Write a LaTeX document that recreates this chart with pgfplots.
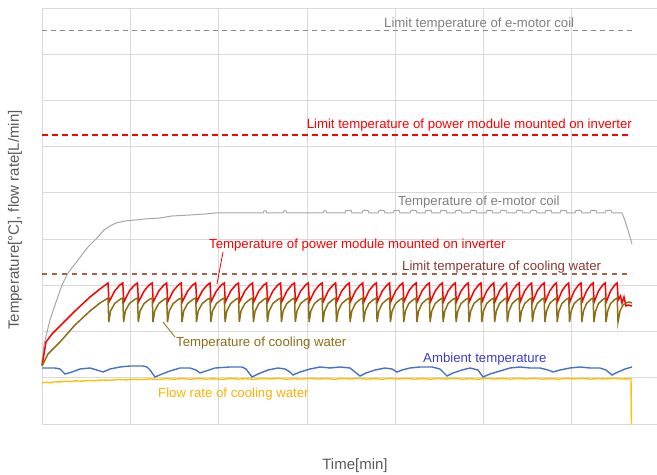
\documentclass[border=0pt]{standalone}
\usepackage{pgfplots}
\pgfplotsset{compat=1.18}
\usepackage{fontspec}
\setmainfont{Liberation Sans}
\definecolor{gridc}{HTML}{D9D9D9}
\definecolor{coilc}{HTML}{A6A6A6}
\definecolor{limgray}{HTML}{8C8C8C}
\definecolor{txtgray}{HTML}{808080}
\definecolor{redc}{HTML}{FF0000}
\definecolor{limbrown}{RGB}{165,100,70}
\definecolor{limbrowntxt}{RGB}{140,55,50}
\definecolor{waterc}{RGB}{140,110,20}
\definecolor{ambc}{HTML}{4472C4}
\definecolor{ambtxt}{RGB}{60,60,205}
\definecolor{flowc}{HTML}{FFC000}
\definecolor{flowtxt}{RGB}{255,176,0}
\definecolor{labc}{HTML}{5A5A5A}
\newcommand{\annfont}{\fontsize{13.2bp}{15bp}\selectfont}
\newcommand{\labfont}{\fontsize{15bp}{17bp}\selectfont}
\begin{document}
\begin{tikzpicture}
\begin{axis}[
  scale only axis, width=618bp, height=416bp,
  xmin=42, xmax=660, ymin=0, ymax=416,
  axis line style={draw=gridc, line width=0.8pt},
  xtick={130.3,218.6,306.9,395.2,483.5,571.8},
  ytick={46.2,92.4,138.7,184.9,231.1,277.3,323.6,369.8},
  xticklabel=\empty, yticklabel=\empty,
  major tick length=0pt,
  grid=major, grid style={draw=gridc, line width=0.8pt},
  clip=false,
]
% limit lines
\addplot[limgray, line width=1pt, dash pattern=on 5bp off 4bp] coordinates {(42,393) (632,393)};
\addplot[redc, line width=1.6pt, dash pattern=on 6bp off 4bp] coordinates {(42,289) (632,289)};
\addplot[limbrown, line width=1.3pt, dash pattern=on 5bp off 5bp] coordinates {(42,150) (632,150)};
% e-motor coil temperature
\addplot[coilc, line width=1pt] coordinates {
(42,62) (44,79) (47,92) (50,104) (56,122) (62,139) (68,151) (78,164) (88,177) (97,186)
(104,194) (110,198) (116,201) (125,203) (145,205) (160,206) (172,208) (190,209) (205,210) (215,211)
(263,211) (264,213) (266,213) (267,211) (283,211) (284,213) (286,213) (287,211) (323,211) (324,213) (326,213) (327,211)
(345,211) (346,213.5) (351,213.5) (352,211)
(362,211) (363,213.5) (368,213.5) (369,211)
(378,211) (379,213.5) (384,213.5) (385,211)
(393,211) (394,213.5) (399,213.5) (400,211)
(410,211) (411,213.5) (416,213.5) (417,211)
(425,211) (426,213.5) (431,213.5) (432,211)
(440,211) (441,213.5) (446,213.5) (447,211)
(455,211) (456,213.5) (461,213.5) (462,211)
(470,211) (471,213.5) (476,213.5) (477,211)
(486,211) (487,213.5) (492,213.5) (493,211)
(500,211) (501,213.5) (506,213.5) (507,211)
(516,211) (517,213.5) (522,213.5) (523,211)
(530,211) (531,213.5) (536,213.5) (537,211)
(545,211) (546,213.5) (551,213.5) (552,211)
(560,211) (561,213.5) (566,213.5) (567,211)
(575,211) (576,213.5) (581,213.5) (582,211)
(590,211) (591,213.5) (596,213.5) (597,211)
(605,211) (606,213.5) (611,213.5) (612,211)
(622,211) (624,206) (628,194) (632,180)};
% power module temperature
\addplot[redc, line width=1.5pt] coordinates {
(42,59) (43,64) (46,82) (52,90) (60,98) (75,113) (90,127) (100,135)
(108,141) (109,122) (114.7,133) (119.8,139)
(122.8,141) (123.8,122) (129.4,133) (134.6,139)
(137.5,141) (138.5,122) (144.1,133) (149.2,139)
(152.2,141) (153.2,122) (158.8,133) (163.9,139)
(166.7,141) (167.7,122) (173.2,133) (178.3,139)
(181.2,141) (182.2,122) (187.7,133) (192.7,139)
(195.7,141) (196.7,122) (202.2,133) (207.2,139)
(210.0,141) (211.0,122) (216.4,133) (221.4,139)
(224.3,141) (225.3,122) (230.7,133) (235.7,139)
(238.5,141) (239.5,122) (244.9,133) (249.8,139)
(252.6,141) (253.6,122) (258.9,133) (263.8,139)
(266.6,141) (267.6,122) (272.9,133) (277.8,139)
(280.6,141) (281.6,122) (286.9,133) (291.7,139)
(294.5,141) (295.5,122) (300.7,133) (305.6,139)
(308.3,141) (309.3,122) (314.5,133) (319.3,139)
(322.1,141) (323.1,122) (328.2,133) (333.0,139)
(335.7,141) (336.7,122) (341.8,133) (346.6,139)
(349.3,141) (350.3,122) (355.4,133) (360.1,139)
(362.8,141) (363.8,122) (368.9,133) (373.6,139)
(376.3,141) (377.3,122) (382.3,133) (387.0,139)
(389.6,141) (390.6,122) (395.6,133) (400.2,139)
(402.9,141) (403.9,122) (408.8,133) (413.5,139)
(416.1,141) (417.1,122) (422.0,133) (426.6,139)
(429.3,141) (430.3,122) (435.2,133) (439.8,139)
(442.3,141) (443.3,122) (448.1,133) (452.7,139)
(455.3,141) (456.3,122) (461.1,133) (465.6,139)
(468.2,141) (469.2,122) (474.0,133) (478.5,139)
(481.0,141) (482.0,122) (486.7,133) (491.2,139)
(493.8,141) (494.8,122) (499.5,133) (503.9,139)
(506.5,141) (507.5,122) (512.2,133) (516.6,139)
(519.1,141) (520.1,122) (524.7,133) (529.1,139)
(531.6,141) (532.6,122) (537.2,133) (541.6,139)
(544.1,141) (545.1,122) (549.7,133) (554.0,139)
(556.4,141) (557.4,122) (561.9,133) (566.2,139)
(568.7,141) (569.7,122) (574.2,133) (578.5,139)
(581.0,141) (582.0,122) (586.5,133) (590.7,139)
(593.1,141) (594.1,122) (598.5,133) (602.8,139)
(605.2,141) (606.2,122) (610.6,133) (614.8,139)
(617.2,141) (618.2,124) (620.5,128) (622,121) (624,127) (626,118) (628,119) (632,118)};
% cooling water temperature
\addplot[waterc, line width=1.5pt] coordinates {
(42,58) (48,70) (60,82) (75,99) (90,113) (100,121)
(108,126) (108.8,102) (110.5,113) (114.7,120.5) (119.8,124.5)
(122.8,126) (123.6,102) (125.3,113) (129.4,120.5) (134.6,124.5)
(137.5,126) (138.3,102) (140.0,113) (144.1,120.5) (149.2,124.5)
(152.2,126) (153.0,102) (154.7,113) (158.8,120.5) (163.9,124.5)
(166.7,126) (167.5,102) (169.2,113) (173.2,120.5) (178.3,124.5)
(181.2,126) (182.0,102) (183.7,113) (187.7,120.5) (192.7,124.5)
(195.7,126) (196.5,102) (198.2,113) (202.2,120.5) (207.2,124.5)
(210.0,126) (210.8,102) (212.5,113) (216.4,120.5) (221.4,124.5)
(224.3,126) (225.1,102) (226.8,113) (230.7,120.5) (235.7,124.5)
(238.5,126) (239.3,102) (241.0,113) (244.9,120.5) (249.8,124.5)
(252.6,126) (253.4,102) (255.1,113) (258.9,120.5) (263.8,124.5)
(266.6,126) (267.4,102) (269.1,113) (272.9,120.5) (277.8,124.5)
(280.6,126) (281.4,102) (283.1,113) (286.9,120.5) (291.7,124.5)
(294.5,126) (295.3,102) (297.0,113) (300.7,120.5) (305.6,124.5)
(308.3,126) (309.1,102) (310.8,113) (314.5,120.5) (319.3,124.5)
(322.1,126) (322.9,102) (324.6,113) (328.2,120.5) (333.0,124.5)
(335.7,126) (336.5,102) (338.2,113) (341.8,120.5) (346.6,124.5)
(349.3,126) (350.1,102) (351.8,113) (355.4,120.5) (360.1,124.5)
(362.8,126) (363.6,102) (365.3,113) (368.9,120.5) (373.6,124.5)
(376.3,126) (377.1,102) (378.8,113) (382.3,120.5) (387.0,124.5)
(389.6,126) (390.4,102) (392.1,113) (395.6,120.5) (400.2,124.5)
(402.9,126) (403.7,102) (405.4,113) (408.8,120.5) (413.5,124.5)
(416.1,126) (416.9,102) (418.6,113) (422.0,120.5) (426.6,124.5)
(429.3,126) (430.1,102) (431.8,113) (435.2,120.5) (439.8,124.5)
(442.3,126) (443.1,102) (444.8,113) (448.1,120.5) (452.7,124.5)
(455.3,126) (456.1,102) (457.8,113) (461.1,120.5) (465.6,124.5)
(468.2,126) (469.0,102) (470.7,113) (474.0,120.5) (478.5,124.5)
(481.0,126) (481.8,102) (483.5,113) (486.7,120.5) (491.2,124.5)
(493.8,126) (494.6,102) (496.3,113) (499.5,120.5) (503.9,124.5)
(506.5,126) (507.3,102) (509.0,113) (512.2,120.5) (516.6,124.5)
(519.1,126) (519.9,102) (521.6,113) (524.7,120.5) (529.1,124.5)
(531.6,126) (532.4,102) (534.1,113) (537.2,120.5) (541.6,124.5)
(544.1,126) (544.9,102) (546.6,113) (549.7,120.5) (554.0,124.5)
(556.4,126) (557.2,102) (558.9,113) (561.9,120.5) (566.2,124.5)
(568.7,126) (569.5,102) (571.2,113) (574.2,120.5) (578.5,124.5)
(581.0,126) (581.8,102) (583.5,113) (586.5,120.5) (590.7,124.5)
(593.1,126) (593.9,102) (595.6,113) (598.5,120.5) (602.8,124.5)
(605.2,126) (606.0,102) (607.7,113) (610.6,120.5) (614.8,124.5)
(617.2,126) (618,102) (620,113) (623,119) (626,121) (629,122) (632,121)};
% ambient temperature
\addplot[ambc, line width=1.4pt] coordinates {
(42,56) (55,56) (60,55) (65,50) (72,52) (80,55) (90,56) (97,54) (103,52) (110,55)
(120,57) (130,58) (143,58) (147,57) (150,54) (155,47) (162,50) (170,53) (180,56) (190,56)
(196,54) (200,51) (206,53) (215,56) (230,57) (242,57) (246,55) (252,47) (258,50) (268,54)
(278,56) (285,55) (290,52) (293,49) (300,52) (310,55) (320,57) (330,56) (340,57) (350,56)
(355,52) (360,48) (366,51) (375,54) (385,56) (392,55) (397,52) (402,54) (410,56) (420,57)
(432,57) (440,55) (447,48) (453,51) (462,54) (470,56) (478,54) (483,47) (490,50) (500,53)
(510,56) (520,57) (530,56) (540,56) (548,54) (553,52) (560,54) (570,56) (580,57) (590,56)
(600,56) (606,54) (612,49) (618,52) (625,55) (632,57)};
% flow rate
\addplot[flowc, line width=1.4pt] coordinates {
(42,41) (46,41.8) (50,41.2) (55,42.3) (60,42.0) (65,42.8) (70,42.4) (76,43.2) (82,42.8) (88,43.6)
(95,43.3) (102,44.0) (110,43.7) (118,44.5) (126,44.1) (134,44.8) (142,44.4) (150,45.1) (158,44.6) (166,45.3)
(174,44.8) (182,45.4) (190,44.7) (198,45.5) (206,44.9) (214,45.2) (222,44.6) (230,45.6) (238,44.9) (246,45.3)
(254,44.7) (262,45.5) (270,45.0) (278,45.6) (286,44.8) (294,45.3) (302,44.9) (310,45.6) (318,45.0) (326,45.4)
(334,44.7) (342,45.5) (350,45.0) (358,45.7) (366,44.9) (374,45.3) (382,44.8) (390,45.5) (398,45.0) (406,45.6)
(414,44.9) (422,45.4) (430,44.8) (438,45.5) (446,45.1) (454,45.6) (462,44.9) (470,45.3) (478,44.8) (486,45.6)
(494,45.0) (502,45.4) (510,44.9) (518,45.5) (526,45.0) (534,45.7) (542,44.9) (550,45.4) (558,44.8) (566,45.5)
(574,45.1) (582,45.6) (590,44.9) (598,45.4) (606,45.0) (614,45.6) (622,45.0) (630,45.3) (631,45.3) (631.5,0)};
% annotations
\node[anchor=base west, inner sep=0pt, txtgray, font=\annfont] at (axis cs:384,396) {Limit temperature of e-motor coil};
\node[anchor=base east, inner sep=0pt, redc, font=\annfont] at (axis cs:632,295) {Limit temperature of power module mounted on inverter};
\node[anchor=base west, inner sep=0pt, txtgray, font=\annfont] at (axis cs:398,218) {Temperature of e-motor coil};
\node[anchor=base west, inner sep=0pt, redc, font=\annfont] at (axis cs:209,175) {Temperature of power module mounted on inverter};
\node[anchor=base west, inner sep=0pt, limbrowntxt, font=\annfont] at (axis cs:402,153) {Limit temperature of cooling water};
\node[anchor=base west, inner sep=0pt, waterc, font=\annfont] at (axis cs:176,77) {Temperature of cooling water};
\node[anchor=base west, inner sep=0pt, ambtxt, font=\annfont] at (axis cs:423,61) {Ambient temperature};
\node[anchor=base west, inner sep=0pt, flowtxt, font=\annfont] at (axis cs:158,27) {Flow rate of cooling water};
\draw[redc, line width=0.8pt] (axis cs:223,172) -- (axis cs:217,140);
\draw[waterc, line width=0.8pt] (axis cs:175,87) -- (axis cs:163,102);
\end{axis}
\node[anchor=base, inner sep=0pt, labc, font=\labfont] at (313bp,-45bp) {Time[min]};
\node[rotate=90, inner sep=0pt, labc, font=\labfont] at (-27bp,204bp) {Temperature[°C], flow rate[L/min]};
\pgfresetboundingbox
\path (-42bp,-51bp) rectangle (615bp,424bp);
\end{tikzpicture}
\end{document}
